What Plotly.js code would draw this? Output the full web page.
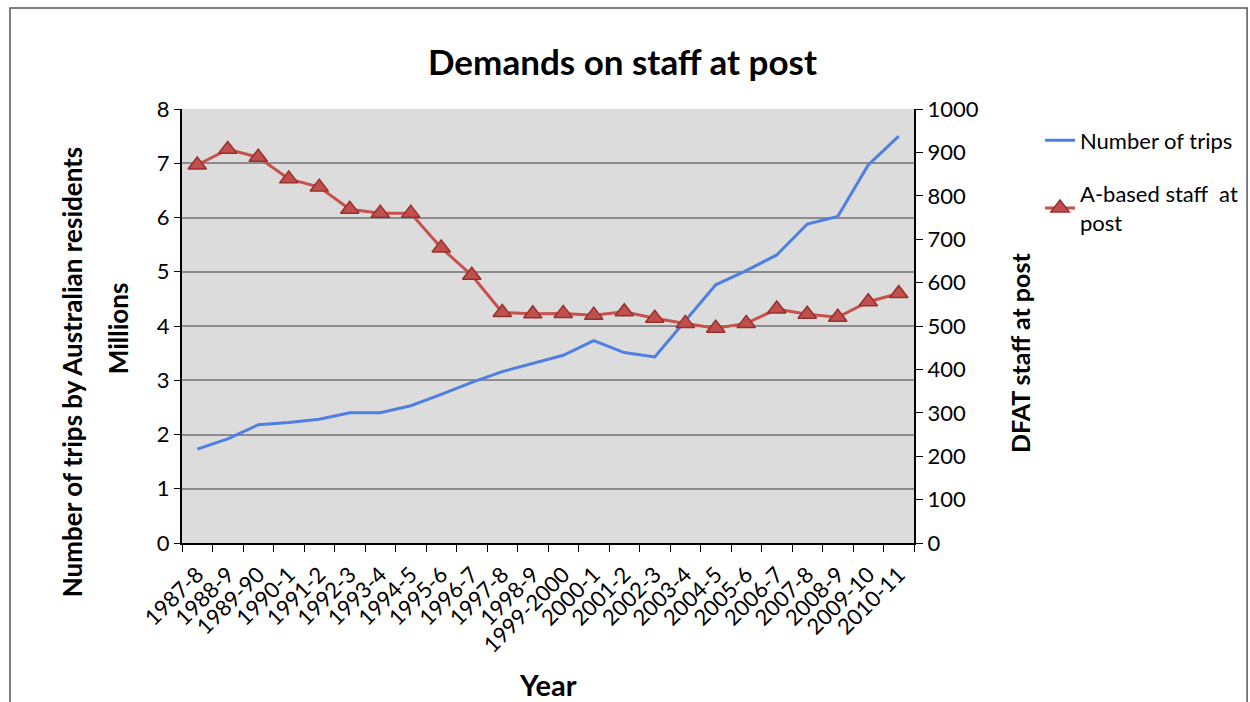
<!DOCTYPE html>
<html>
<head>
<meta charset="utf-8">
<script src="https://cdn.plot.ly/plotly-3.0.1.min.js"></script>
<style>html,body{margin:0;padding:0;background:#fff;}#chart{width:1250px;height:702px;}</style>
</head>
<body>
<div id="chart"></div>
<script>
const years = ["1987-8","1988-9","1989-90","1990-1","1991-2","1992-3","1993-4","1994-5","1995-6","1996-7","1997-8","1998-9","1999-2000","2000-1","2001-2","2002-3","2003-4","2004-5","2005-6","2006-7","2007-8","2008-9","2009-10","2010-11"];
const trips = [1.73,1.92,2.18,2.22,2.28,2.40,2.40,2.53,2.74,2.96,3.16,3.31,3.46,3.73,3.51,3.43,4.10,4.76,5.02,5.31,5.88,6.02,6.97,7.50];
const staff = [871,907,889,839,820,769,760,760,680,617,531,528,529,525,533,518,506,495,506,539,527,520,556,575];
const seriesNames = ["Number of trips","A-based staff  at<br>post"];

const FONT = "Lato, 'Open Sans', sans-serif";

const traces = [
  {x: years, y: trips, name: seriesNames[0], type: "scatter", mode: "lines",
   line: {color: "#4f7fe0", width: 3}, yaxis: "y", legendgroup: "a"},
  {x: years, y: staff, name: seriesNames[1], type: "scatter", mode: "lines+markers",
   line: {color: "#c8504d", width: 3},
   marker: {symbol: "triangle-up", size: 16, color: "#c0504d", line: {color: "#96302e", width: 1.5}},
   yaxis: "y2", legendgroup: "b"}
];

const layout = {
  width: 1250, height: 702,
  margin: {l: 182, r: 336, t: 109, b: 159},
  paper_bgcolor: "#ffffff",
  plot_bgcolor: "#dcdcdc",
  font: {family: FONT, color: "#000"},
  title: {text: "<b>Demands on staff at post</b>", font: {size: 35, family: FONT}, x: 0.498, xanchor: "center", y: 0.91, yanchor: "middle"},
  xaxis: {
    type: "category", tickson: "boundaries", tickangle: -45, range: [-0.5, 23.5], autorange: false, automargin: false,
    ticks: "outside", ticklen: 7, tickcolor: "#000", tickwidth: 1, ticklabelstandoff: 8,
    showline: true, linecolor: "#000", linewidth: 2,
    showgrid: false, tickfont: {size: 22, family: FONT}
  },
  yaxis: {
    range: [0, 8], dtick: 1, ticks: "outside", ticklen: 6, tickcolor: "#000", automargin: false,
    showline: true, linecolor: "#000", linewidth: 2,
    showgrid: true, gridcolor: "#8c8c8c", gridwidth: 2, zeroline: false,
    tickfont: {size: 22, family: FONT}
  },
  yaxis2: {
    range: [0, 1000], dtick: 100, overlaying: "y", side: "right", automargin: false,
    ticks: "outside", ticklen: 7, tickcolor: "#000",
    showline: true, linecolor: "#000", linewidth: 2,
    showgrid: false, zeroline: false, tickfont: {size: 22, family: FONT}
  },
  legend: {
    xref: "container", yref: "container",
    x: 0.832, y: 0.83, xanchor: "left", yanchor: "top",
    font: {size: 22, family: FONT}, bgcolor: "rgba(0,0,0,0)",
    traceorder: "grouped", tracegroupgap: 22
  },
  annotations: [
    {text: "<b>Number of trips by Australian residents</b>", xref: "paper", yref: "paper", x: -0.150, y: 0.394, textangle: -90, showarrow: false, font: {size: 26, family: FONT}, xanchor: "center", yanchor: "middle"},
    {text: "<b>Millions</b>", xref: "paper", yref: "paper", x: -0.0874, y: 0.495, textangle: -90, showarrow: false, font: {size: 26, family: FONT}, xanchor: "center", yanchor: "middle"},
    {text: "<b>DFAT staff at post</b>", xref: "paper", yref: "paper", x: 1.145, y: 0.438, textangle: -90, showarrow: false, font: {size: 25, family: FONT}, xanchor: "center", yanchor: "middle"},
    {text: "<b>Year</b>", xref: "paper", yref: "paper", x: 0.5, y: -0.325, showarrow: false, font: {size: 29, family: FONT}, xanchor: "center", yanchor: "middle"}
  ],
  shapes: [
    {type: "rect", xref: "paper", yref: "paper", x0: -0.235, x1: 1.455, y0: -0.5, y1: 1.233, line: {color: "#555", width: 1.5}, fillcolor: "rgba(0,0,0,0)", layer: "below"}
  ],
  showlegend: true
};

Plotly.newPlot("chart", traces, layout, {displayModeBar: false, staticPlot: true});
</script>
</body>
</html>
